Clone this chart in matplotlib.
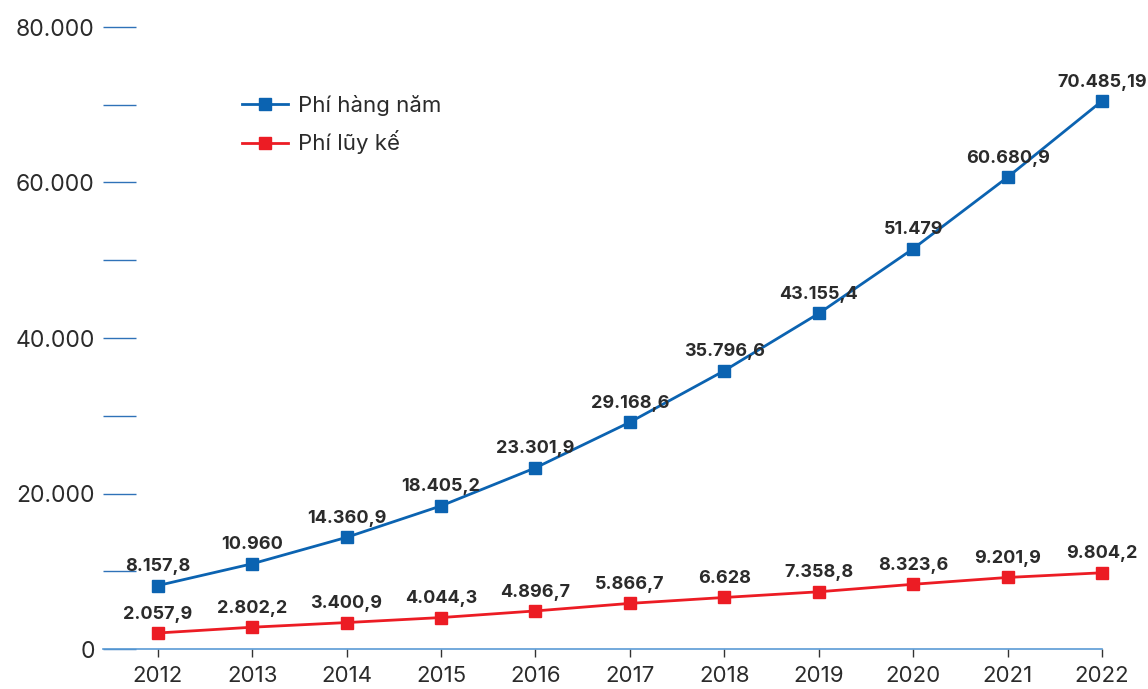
import numpy as np
import matplotlib.pyplot as plt

plt.rcParams['font.family'] = ['Inter', 'DejaVu Sans']

# data
years = [2012, 2013, 2014, 2015, 2016, 2017, 2018, 2019, 2020, 2021, 2022]
phi_hang_nam = [8157.8, 10960, 14360.9, 18405.2, 23301.9, 29168.6,
                35796.6, 43155.4, 51479, 60680.9, 70485.19]
phi_luy_ke = [2057.9, 2802.2, 3400.9, 4044.3, 4896.7, 5866.7,
              6628, 7358.8, 8323.6, 9201.9, 9804.2]
series_names = ["Phí hàng năm", "Phí lũy kế"]
y_ticks = [0, 10000, 20000, 30000, 40000, 50000, 60000, 70000, 80000]

BLUE = "#0b63b1"
RED = "#ec1c24"
TEXT = "#2b2b2b"


def vn_format(v):
    # vietnamese style: '.' thousands, ',' decimals
    s = f"{v:,}"
    return s.replace(",", "#").replace(".", ",").replace("#", ".")


def tick_label(v):
    if v % 20000 != 0:
        return ""
    return "0" if v == 0 else vn_format(v)


fig = plt.figure(figsize=(11.48, 6.89), dpi=100)
ax = fig.add_axes([103 / 1148, 1 - 649 / 689, (1102 - 103) / 1148, (649 - 27) / 689])

for vals, color, name in [(phi_hang_nam, BLUE, series_names[0]), (phi_luy_ke, RED, series_names[1])]:
    ax.plot(years, vals, color=color, lw=2.0, marker="s", markersize=8.5,
            label=name, clip_on=False, zorder=3)
    for x, v in zip(years, vals):
        ax.annotate(vn_format(v), (x, v), xytext=(0, 7.5), textcoords="offset points",
                    ha="center", va="bottom", fontsize=13, fontweight="bold",
                    color=TEXT, zorder=4)

ax.set_xlim(2011.42, 2022)
ax.set_ylim(0, 80000)

for side in ["top", "right", "left"]:
    ax.spines[side].set_visible(False)
ax.spines["bottom"].set_color("#5b9bd5")
ax.spines["bottom"].set_linewidth(1.2)

ax.set_yticks(y_ticks)
ax.set_yticklabels([tick_label(v) for v in y_ticks])
ax.tick_params(axis="y", direction="in", length=24, width=1.0, color="#2f72b8",
               pad=6, labelsize=16.5, labelcolor=TEXT)

ax.set_xticks(years)
ax.set_xticklabels([str(y) for y in years])
ax.tick_params(axis="x", direction="out", length=6, width=1.0, color="#333333",
               pad=6, labelsize=16, labelcolor=TEXT)

leg = ax.legend(loc="upper left", bbox_to_anchor=(0.13, 0.905), frameon=False,
                fontsize=16, handlelength=2.1, labelspacing=0.65, handletextpad=0.45,
                borderaxespad=0)
for t in leg.get_texts():
    t.set_color(TEXT)

fig.savefig("out.png", dpi=100)
